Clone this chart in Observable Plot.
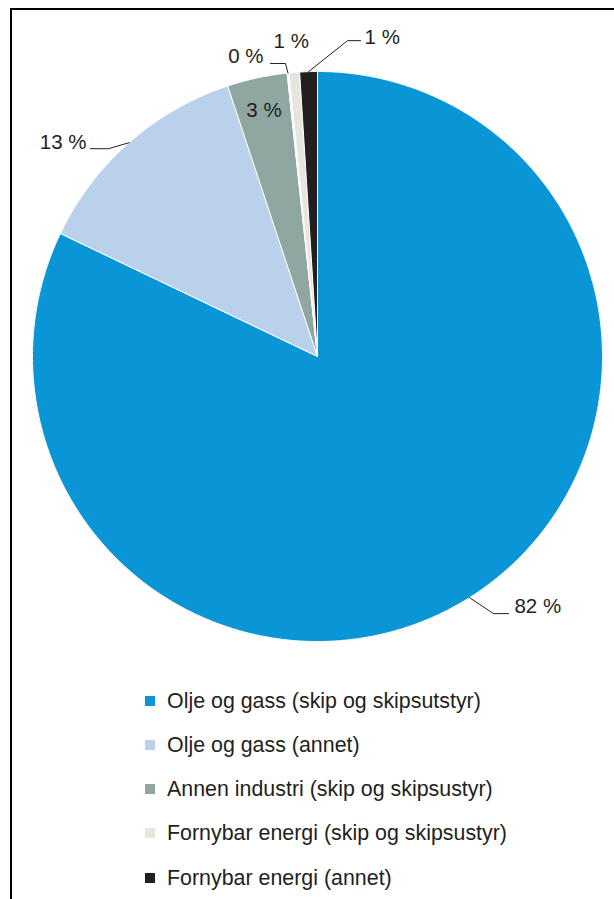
<!DOCTYPE html>
<html>
<head>
<meta charset="utf-8">
<script src="https://cdn.jsdelivr.net/npm/d3@7"></script>
<script src="https://cdn.jsdelivr.net/npm/@observablehq/plot@0.6"></script>
<style>
  html, body { margin: 0; padding: 0; background: #fff; overflow: hidden; }
  body { width: 614px; height: 899px; position: relative; font-family: "Liberation Sans", Arial, sans-serif; color: #231f20; }
  #frame { position: absolute; left: 10px; top: 8px; width: 602px; height: 889px; border-top: 2px solid #000; border-left: 2px solid #000; }
  #chart { position: absolute; left: 0; top: 0; }
  #legend { position: absolute; left: 145px; top: 678.6px; }
  .row { display: flex; align-items: center; height: 44.25px; line-height: 44.25px; font-size: 21.4px; white-space: nowrap; }
  .sw { width: 10px; height: 10px; margin-right: 12px; flex: none; }
</style>
</head>
<body>
<div id="frame"></div>
<div id="chart"></div>
<div id="legend"></div>
<script>
// ---- data ----
const categories = [
  "Olje og gass (skip og skipsutstyr)",
  "Olje og gass (annet)",
  "Annen industri (skip og skipsustyr)",
  "Annen industri (annet)",
  "Fornybar energi (skip og skipsustyr)",
  "Fornybar energi (annet)"
];
const values = [82.1, 12.8, 3.4, 0.1, 0.6, 1.0];
const colors = ["#0a96d6", "#b9d1eb", "#8fa6a1", "#ffffff", "#e8e5de", "#231f20"];
const inLegend = [true, true, true, false, true, true];

// ---- layout (pixels relative to the slice's outer mid-point) ----
const W = 614, H = 660, CX = 317, CY = 356, R = 285;
const labelLayout = [
  {elbow: [24, 16], end: [39, 16], text: [45, 8.5], anchor: "start"},
  {elbow: [-20.5, 6], end: [-38.5, 6], text: [-42.5, -0.7], anchor: "end"},
  {inside: 0.885, anchor: "middle"},
  {elbow: [-2.5, -9.5], end: [-17.5, -9.5], text: [-24.5, -17], anchor: "end"},
  {text: [-3, -31.5], anchor: "middle"},
  {elbow: [39, -31], end: [52, -31], text: [56, -34.5], anchor: "start"}
];

const data = categories.map((c, i) => ({key: c, value: values[i]}));
const arcs = d3.pie().sort(null).value(d => d.value).startAngle(0).endAngle(2 * Math.PI)(data);

// slice polygons in unit coordinates (radius 1, y up)
const polys = [];
arcs.forEach(a => {
  polys.push({key: a.data.key, u: 0, v: 0});
  const n = Math.max(2, Math.ceil((a.endAngle - a.startAngle) / (Math.PI / 720)));
  for (let k = 0; k <= n; k++) {
    const t = a.startAngle + (a.endAngle - a.startAngle) * k / n;
    polys.push({key: a.data.key, u: Math.sin(t), v: Math.cos(t)});
  }
  polys.push({key: a.data.key, u: 0, v: 0});
});

// labels & leaders
const leaders = [], labels = [];
arcs.forEach((a, i) => {
  const L = labelLayout[i];
  const mid = (a.startAngle + a.endAngle) / 2;
  const au = Math.sin(mid), av = Math.cos(mid);
  const off = p => ({u: au + p[0] / R, v: av - p[1] / R});
  const txt = Math.round(a.data.value) + " %";
  if (L.elbow) {
    [[0, 0], L.elbow, L.end].forEach(p => leaders.push({key: a.data.key, ...off(p)}));
  }
  if (L.inside) {
    labels.push({text: txt, anchor: L.anchor, u: au * L.inside, v: av * L.inside});
  } else {
    labels.push({text: txt, anchor: L.anchor, ...off(L.text)});
  }
});

const textMark = anchor => Plot.text(labels.filter(d => d.anchor === anchor), {
  x: "u", y: "v", text: "text", textAnchor: anchor, lineAnchor: "middle",
  fontSize: 20.5, fill: "#231f20"
});

const chart = Plot.plot({
  width: W,
  height: H,
  margin: 0,
  style: {fontFamily: "'Liberation Sans', Arial, sans-serif", background: "transparent"},
  x: {domain: [-CX / R, (W - CX) / R], axis: null},
  y: {domain: [(CY - H) / R, CY / R], axis: null},
  color: {domain: categories, range: colors},
  marks: [
    Plot.line(polys, {x: "u", y: "v", z: "key", fill: "key", stroke: "white", strokeWidth: 1, curve: "linear"}),
    Plot.line(leaders, {x: "u", y: "v", z: "key", stroke: "#231f20", strokeWidth: 1, curve: "linear"}),
    textMark("start"),
    textMark("middle"),
    textMark("end")
  ]
});
document.getElementById("chart").appendChild(chart);

// legend
const legend = document.getElementById("legend");
categories.forEach((c, i) => {
  if (!inLegend[i]) return;
  const row = document.createElement("div");
  row.className = "row";
  const sw = document.createElement("span");
  sw.className = "sw";
  sw.style.background = colors[i];
  const lab = document.createElement("span");
  lab.textContent = c;
  row.appendChild(sw);
  row.appendChild(lab);
  legend.appendChild(row);
});
</script>
</body>
</html>
